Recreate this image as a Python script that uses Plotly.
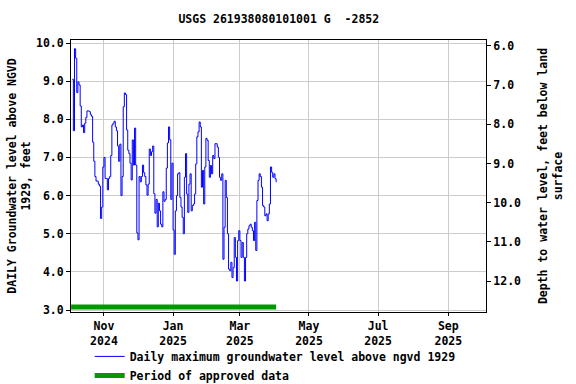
import pandas as pd
import plotly.graph_objects as go

# Daily maximum groundwater level above NGVD 1929 (feet), starting 2024-10-04
start_date = "2024-10-04"
levels = [
    9.05, 7.7, 9.85, 9.6, 8.7, 8.98, 8.9, 8.35, 7.8, 7.85,
    7.65, 7.9, 8.05, 8.22, 8.22, 8.2, 8.12, 8.08, 7.4, 6.9,
    6.5, 6.38, 6.38, 6.3, 6.25, 5.4, 5.7, 6.75, 7.0, 6.45,
    6.45, 6.15, 6.45, 6.5, 7.05, 7.85, 7.9, 7.95, 7.8, 7.7,
    7.3, 6.9, 7.35, 6.0, 6.5, 8.33, 8.69, 8.65, 7.72, 7.19,
    7.1, 6.85, 6.41, 7.46, 6.8, 7.77, 6.8, 5.02, 4.84, 6.5,
    6.36, 6.5, 6.8, 6.6, 6.5, 6.28, 6.01, 6.3, 7.22, 7.05,
    7.15, 7.3, 6.05, 5.54, 5.9, 5.18, 5.8, 5.6, 5.25, 5.18,
    6.1, 5.85, 5.9, 6.72, 7.38, 7.8, 7.46, 5.9, 6.85, 5.1,
    4.46, 5.6, 6.0, 6.57, 6.6, 5.95, 5.7, 5.43, 5.0, 6.48,
    7.1, 6.04, 5.56, 6.3, 6.57, 5.6, 5.74, 5.78, 6.04, 6.83,
    7.54, 7.67, 7.93, 7.8, 6.22, 6.66, 5.78, 6.75, 7.5, 7.45,
    6.92, 6.48, 6.79, 6.57, 7.05, 6.97, 7.36, 7.36, 7.27, 7.0,
    6.48, 6.4, 6.57, 4.33, 5.17, 6.4, 5.95, 5.0, 4.07, 4.03,
    4.25, 3.85, 4.11, 4.9, 4.38, 3.76, 4.82, 5.08, 4.82, 4.38,
    4.77, 4.38, 3.76, 4.38, 5.0, 5.12, 5.21, 5.25, 5.17, 5.08,
    4.82, 5.3, 4.56, 5.87, 6.4, 6.57, 6.5, 6.22, 5.74, 5.7,
    5.47, 5.52, 5.34, 5.52, 5.78, 6.75, 6.61, 6.48, 6.57, 6.44,
    6.35,
]
dates = pd.date_range(start_date, periods=len(levels), freq="D")

# Land surface elevation (ft above NGVD 1929) used for the depth axis
land_surface = 15.92
depths = [land_surface - v for v in levels]

# Period of approved data
approved_dates = ["2024-10-03", "2025-04-02"]
approved_level = [3.08, 3.08]

# Axis ticks
x_tickvals = ["2024-11-01", "2025-01-01", "2025-03-01", "2025-05-01", "2025-07-01", "2025-09-01"]
x_ticktext = ["Nov<br>2024", "Jan<br>2025", "Mar<br>2025", "May<br>2025", "Jul<br>2025", "Sep<br>2025"]
y_ticks = [3, 4, 5, 6, 7, 8, 9, 10]
y2_ticks = [6, 7, 8, 9, 10, 11, 12]

FONT = "DejaVu Sans Mono"

fig = go.Figure()
fig.add_trace(go.Scatter(
    x=dates, y=levels, mode="lines", line=dict(color="#0000ff", width=1, shape="hv"),
    name="Daily maximum groundwater level above ngvd 1929",
))
fig.add_trace(go.Scatter(
    x=approved_dates, y=approved_level, mode="lines",
    line=dict(color="#009900", width=5),
    name="Period of approved data",
))
# depth trace (invisible) so the right-hand axis is drawn
fig.add_trace(go.Scatter(
    x=dates, y=depths, yaxis="y2", mode="lines", line=dict(width=0),
    opacity=0, showlegend=False, hoverinfo="skip",
))

fig.update_layout(
    width=576, height=384,
    margin=dict(l=71, r=90, t=40, b=72, autoexpand=False),
    paper_bgcolor="white", plot_bgcolor="white",
    font=dict(family=FONT, size=11.5, color="black", weight="bold"),
    title=dict(text="USGS 261938080101001 G  -2852", x=0.484, xanchor="center",
               y=0.95, yanchor="middle", font=dict(family=FONT, size=11.5, weight="bold")),
    showlegend=True,
    legend=dict(orientation="v", x=0.045, xanchor="left", y=-0.11, yanchor="top",
                bgcolor="rgba(0,0,0,0)", font=dict(family=FONT, size=11.5, weight="bold"),
                tracegroupgap=0, itemwidth=30),
    xaxis=dict(
        type="date", range=["2024-10-02 22:00", "2025-10-04 06:00"],
        tickvals=x_tickvals, ticktext=x_ticktext, automargin=False,
        showgrid=True, gridcolor="#cccccc", gridwidth=1,
        showline=True, linecolor="black", linewidth=1, mirror=True,
        ticks="outside", ticklen=3, tickcolor="black", zeroline=False,
    ),
    yaxis=dict(
        range=[2.948, 10.079], tickvals=y_ticks, tickformat=".1f", automargin=False,
        showgrid=True, gridcolor="#cccccc", gridwidth=1,
        showline=True, linecolor="black", linewidth=1, mirror=True,
        ticks="outside", ticklen=4, tickcolor="black", zeroline=False,
        title=dict(text="DAILY Groundwater level above NGVD<br>1929, feet",
                   font=dict(family=FONT, size=11.5, weight="bold"), standoff=2),
    ),
    yaxis2=dict(
        overlaying="y", side="right", range=[12.79, 5.847], automargin=False,
        tickvals=y2_ticks, tickformat=".1f", showgrid=False, zeroline=False,
        ticks="outside", ticklen=4, tickcolor="black",
        title=dict(text="Depth to water level, feet below land<br>surface",
                   font=dict(family=FONT, size=11.5, weight="bold"), standoff=18),
    ),
)

fig.write_html("out.html", config={"displayModeBar": False},
               post_script="document.body.style.margin='0px';")
